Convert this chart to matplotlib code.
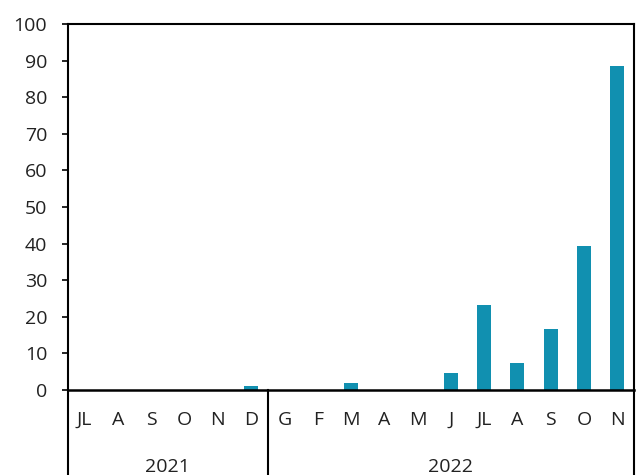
import numpy as np
import matplotlib
matplotlib.use("Agg")
from matplotlib import pyplot as plt

plt.rcParams['font.family'] = ['Open Sans', 'DejaVu Sans']

# months from July 2021 to November 2022
months = ['JL', 'A', 'S', 'O', 'N', 'D',
          'G', 'F', 'M', 'A', 'M', 'J', 'JL', 'A', 'S', 'O', 'N']
values = [0, 0, 0, 0, 0, 1.2,
          0, 0, 1.8, 0, 0, 4.7, 23.2, 7.3, 16.6, 39.4, 88.5]
years = ['2021', '2022']
year_counts = [6, 11]

bar_color = '#1190b0'
fs = 14

fig = plt.figure(figsize=[6.42, 4.75], dpi=100)
ax = fig.add_axes([68 / 642, 85 / 475, 566 / 642, 366 / 475])

x = np.arange(len(months))
ax.bar(x, values, width=0.42, color=bar_color)

ax.set_xlim(-0.5, len(months) - 0.5)
ax.set_ylim(0, 100)
ax.set_yticks(np.arange(0, 101, 10))
ax.tick_params(axis='y', length=4.5, width=1.2, pad=10.5, labelsize=fs,
               labelcolor='#222222')

# month labels, no tick marks
ax.set_xticks(x)
ax.set_xticklabels(months)
ax.tick_params(axis='x', length=0, pad=15, labelsize=fs, labelcolor='#222222')

for s in ax.spines.values():
    s.set_linewidth(1.5)
    s.set_color('black')
ax.spines['bottom'].set_linewidth(1.8)

# year separators and year labels below the month labels
ext = -85 / 366
trans = ax.get_xaxis_transform()
edges = [-0.5]
for c in year_counts:
    edges.append(edges[-1] + c)
for e in edges:
    ax.plot([e, e], [0, ext], transform=trans, color='black', lw=1.5,
            clip_on=False)
for i, yr in enumerate(years):
    mid = (edges[i] + edges[i + 1]) / 2
    ax.text(mid, -77 / 366, yr, transform=trans, ha='center', va='center',
            fontsize=fs, color='#222222')

fig.savefig('out.png', dpi=100)
